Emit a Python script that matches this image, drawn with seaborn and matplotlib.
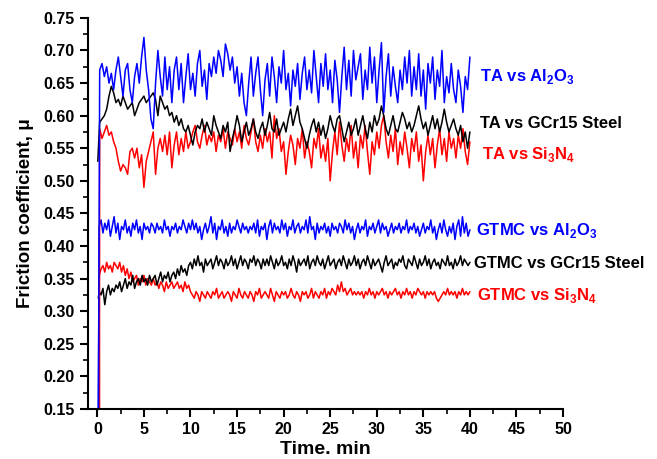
import numpy as np
import pandas as pd
import matplotlib
matplotlib.use("Agg")
import matplotlib.pyplot as plt
from matplotlib.ticker import MultipleLocator, FormatStrFormatter
import seaborn as sns

# ---------------- data ----------------
ta_step = 0.25   # sampling of TA curves, min
gt_step = 0.2    # sampling of GTMC curves, min

ta_al2o3 = [
    0.67, 0.68, 0.66, 0.675, 0.65, 0.665, 0.64, 0.67,
    0.69, 0.66, 0.63, 0.67, 0.68, 0.64, 0.62, 0.66,
    0.68, 0.65, 0.69, 0.72, 0.67, 0.64, 0.595, 0.58,
    0.65, 0.70, 0.66, 0.63, 0.69, 0.64, 0.675, 0.62,
    0.67, 0.69, 0.64, 0.68, 0.62, 0.66, 0.695, 0.64,
    0.665, 0.63, 0.68, 0.70, 0.645, 0.67, 0.625, 0.68,
    0.66, 0.69, 0.665, 0.70, 0.685, 0.66, 0.71, 0.695,
    0.67, 0.69, 0.65, 0.675, 0.63, 0.665, 0.62, 0.60,
    0.65, 0.69, 0.63, 0.665, 0.69, 0.64, 0.60, 0.655,
    0.68, 0.63, 0.69, 0.66, 0.62, 0.675, 0.65, 0.70,
    0.64, 0.665, 0.615, 0.67, 0.645, 0.68, 0.625, 0.665,
    0.69, 0.64, 0.67, 0.635, 0.70, 0.66, 0.62, 0.68,
    0.645, 0.695, 0.64, 0.67, 0.62, 0.685, 0.655, 0.605,
    0.66, 0.705, 0.64, 0.685, 0.63, 0.70, 0.655, 0.675,
    0.695, 0.625, 0.67, 0.64, 0.705, 0.65, 0.69, 0.62,
    0.67, 0.712, 0.605, 0.66, 0.695, 0.63, 0.675, 0.645,
    0.62, 0.67, 0.64, 0.69, 0.65, 0.70, 0.63, 0.675,
    0.64, 0.695, 0.63, 0.67, 0.61, 0.68, 0.65, 0.69,
    0.625, 0.67, 0.645, 0.70, 0.62, 0.66, 0.635, 0.68,
    0.64, 0.62, 0.67, 0.645, 0.605, 0.66, 0.64, 0.69,
]
ta_gcr15 = [
    0.59, 0.595, 0.60, 0.61, 0.63, 0.645, 0.635, 0.62,
    0.625, 0.615, 0.63, 0.62, 0.61, 0.615, 0.62, 0.60,
    0.61, 0.62, 0.625, 0.63, 0.62, 0.625, 0.63, 0.635,
    0.625, 0.60, 0.63, 0.62, 0.61, 0.615, 0.60, 0.605,
    0.59, 0.60, 0.585, 0.595, 0.58, 0.575, 0.585, 0.57,
    0.555, 0.575, 0.585, 0.58, 0.595, 0.575, 0.59, 0.58,
    0.57, 0.60, 0.585, 0.575, 0.565, 0.585, 0.575, 0.59,
    0.545, 0.565, 0.58, 0.60, 0.585, 0.56, 0.575, 0.59,
    0.57, 0.58, 0.595, 0.575, 0.565, 0.58, 0.59, 0.57,
    0.585, 0.605, 0.58, 0.575, 0.595, 0.57, 0.58, 0.59,
    0.575, 0.595, 0.61, 0.585, 0.60, 0.615, 0.59, 0.58,
    0.565, 0.55, 0.57, 0.585, 0.595, 0.575, 0.59, 0.57,
    0.585, 0.565, 0.58, 0.60, 0.585, 0.575, 0.595, 0.60,
    0.58, 0.56, 0.575, 0.59, 0.57, 0.58, 0.595, 0.57,
    0.585, 0.60, 0.58, 0.565, 0.59, 0.575, 0.60, 0.585,
    0.595, 0.615, 0.60, 0.58, 0.57, 0.585, 0.60, 0.58,
    0.575, 0.59, 0.605, 0.595, 0.58, 0.59, 0.575, 0.585,
    0.60, 0.615, 0.595, 0.58, 0.59, 0.57, 0.585, 0.60,
    0.58, 0.595, 0.575, 0.59, 0.61, 0.59, 0.575, 0.585,
    0.595, 0.58, 0.57, 0.585, 0.56, 0.575, 0.55, 0.575,
]
ta_si3n4 = [
    0.58, 0.565, 0.575, 0.585, 0.57, 0.575, 0.56, 0.55,
    0.53, 0.515, 0.525, 0.52, 0.51, 0.545, 0.55, 0.535,
    0.55, 0.52, 0.54, 0.49, 0.53, 0.545, 0.56, 0.575,
    0.51, 0.55, 0.565, 0.545, 0.57, 0.54, 0.575, 0.52,
    0.555, 0.575, 0.54, 0.565, 0.545, 0.575, 0.55, 0.56,
    0.575, 0.585, 0.56, 0.55, 0.57, 0.585, 0.555, 0.57,
    0.56, 0.575, 0.545, 0.57, 0.56, 0.58, 0.55, 0.575,
    0.565, 0.555, 0.58, 0.56, 0.575, 0.55, 0.585, 0.565,
    0.555, 0.575, 0.595, 0.56, 0.545, 0.57, 0.55, 0.58,
    0.56, 0.575, 0.535, 0.60, 0.565, 0.58, 0.545, 0.56,
    0.51, 0.545, 0.57, 0.555, 0.525, 0.565, 0.55, 0.58,
    0.535, 0.56, 0.545, 0.52, 0.565, 0.55, 0.58, 0.535,
    0.555, 0.53, 0.565, 0.50, 0.545, 0.575, 0.54, 0.59,
    0.555, 0.53, 0.565, 0.545, 0.585, 0.535, 0.56, 0.52,
    0.57, 0.55, 0.585, 0.545, 0.51, 0.56, 0.54, 0.575,
    0.55, 0.585, 0.60, 0.56, 0.535, 0.57, 0.545, 0.58,
    0.525, 0.56, 0.54, 0.575, 0.55, 0.52, 0.565, 0.545,
    0.575, 0.53, 0.555, 0.50, 0.545, 0.57, 0.54, 0.565,
    0.52, 0.555, 0.58, 0.54, 0.565, 0.53, 0.575, 0.55,
    0.565, 0.535, 0.57, 0.55, 0.58, 0.545, 0.525, 0.56,
]
gtmc_al2o3 = [
    0.43, 0.44, 0.42, 0.435, 0.425, 0.44, 0.415, 0.43, 0.445, 0.42,
    0.435, 0.41, 0.43, 0.425, 0.44, 0.42, 0.43, 0.415, 0.435, 0.425,
    0.44, 0.42, 0.43, 0.41, 0.435, 0.425, 0.43, 0.42, 0.435, 0.43,
    0.42, 0.435, 0.425, 0.43, 0.42, 0.44, 0.425, 0.43, 0.415, 0.43,
    0.425, 0.435, 0.42, 0.43, 0.425, 0.44, 0.43, 0.42, 0.435, 0.425,
    0.44, 0.425, 0.435, 0.42, 0.43, 0.41, 0.425, 0.435, 0.42, 0.43,
    0.445, 0.42, 0.435, 0.41, 0.43, 0.425, 0.44, 0.42, 0.43, 0.415,
    0.435, 0.42, 0.43, 0.425, 0.44, 0.43, 0.42, 0.435, 0.425, 0.43,
    0.42, 0.43, 0.425, 0.435, 0.42, 0.44, 0.415, 0.43, 0.425, 0.435,
    0.41, 0.43, 0.44, 0.42, 0.435, 0.425, 0.43, 0.42, 0.44, 0.425,
    0.435, 0.415, 0.43, 0.425, 0.44, 0.42, 0.43, 0.435, 0.42, 0.43,
    0.425, 0.44, 0.42, 0.445, 0.425, 0.43, 0.41, 0.435, 0.42, 0.43,
    0.425, 0.435, 0.42, 0.43, 0.415, 0.435, 0.425, 0.43, 0.42, 0.435,
    0.43, 0.42, 0.44, 0.425, 0.435, 0.42, 0.43, 0.41, 0.425, 0.435,
    0.42, 0.43, 0.425, 0.44, 0.415, 0.43, 0.425, 0.435, 0.42, 0.43,
    0.44, 0.42, 0.435, 0.425, 0.43, 0.415, 0.425, 0.435, 0.42, 0.43,
    0.425, 0.435, 0.42, 0.43, 0.425, 0.44, 0.42, 0.43, 0.425, 0.435,
    0.42, 0.43, 0.415, 0.425, 0.435, 0.42, 0.43, 0.425, 0.44, 0.42,
    0.43, 0.41, 0.425, 0.435, 0.42, 0.44, 0.425, 0.415, 0.43, 0.42,
    0.435, 0.41, 0.43, 0.44, 0.415, 0.445, 0.42, 0.435, 0.415, 0.425,
]
gtmc_gcr15 = [
    0.33, 0.325, 0.335, 0.31, 0.33, 0.34, 0.325, 0.335, 0.33, 0.34,
    0.335, 0.345, 0.33, 0.34, 0.35, 0.335, 0.345, 0.34, 0.355, 0.335,
    0.345, 0.35, 0.34, 0.355, 0.345, 0.35, 0.34, 0.355, 0.345, 0.35,
    0.355, 0.34, 0.35, 0.36, 0.345, 0.355, 0.35, 0.36, 0.345, 0.355,
    0.36, 0.35, 0.365, 0.355, 0.37, 0.36, 0.365, 0.355, 0.37, 0.375,
    0.365, 0.38, 0.37, 0.385, 0.37, 0.375, 0.36, 0.38, 0.37, 0.375,
    0.38, 0.365, 0.375, 0.385, 0.37, 0.38, 0.375, 0.365, 0.38, 0.37,
    0.375, 0.385, 0.37, 0.38, 0.365, 0.375, 0.385, 0.37, 0.38, 0.375,
    0.365, 0.38, 0.375, 0.385, 0.37, 0.38, 0.375, 0.365, 0.38, 0.37,
    0.38, 0.37, 0.385, 0.375, 0.365, 0.38, 0.37, 0.375, 0.385, 0.37,
    0.375, 0.365, 0.38, 0.37, 0.385, 0.375, 0.36, 0.38, 0.37, 0.375,
    0.38, 0.37, 0.385, 0.365, 0.375, 0.38, 0.37, 0.385, 0.375, 0.37,
    0.38, 0.365, 0.375, 0.385, 0.37, 0.375, 0.38, 0.365, 0.375, 0.38,
    0.37, 0.385, 0.375, 0.365, 0.38, 0.37, 0.375, 0.385, 0.37, 0.38,
    0.365, 0.375, 0.38, 0.37, 0.385, 0.375, 0.365, 0.38, 0.37, 0.375,
    0.38, 0.37, 0.36, 0.375, 0.385, 0.37, 0.375, 0.38, 0.365, 0.375,
    0.37, 0.38, 0.375, 0.385, 0.37, 0.365, 0.38, 0.375, 0.37, 0.385,
    0.375, 0.365, 0.38, 0.37, 0.375, 0.385, 0.37, 0.38, 0.365, 0.375,
    0.38, 0.37, 0.375, 0.365, 0.38, 0.375, 0.37, 0.385, 0.37, 0.375,
    0.365, 0.38, 0.37, 0.375, 0.385, 0.37, 0.38, 0.375, 0.37, 0.375,
]
gtmc_si3n4 = [
    0.355, 0.365, 0.37, 0.36, 0.375, 0.365, 0.37, 0.36, 0.375, 0.37,
    0.365, 0.375, 0.36, 0.37, 0.355, 0.365, 0.35, 0.36, 0.345, 0.35,
    0.355, 0.34, 0.35, 0.345, 0.355, 0.34, 0.35, 0.345, 0.34, 0.35,
    0.34, 0.345, 0.335, 0.345, 0.34, 0.33, 0.345, 0.335, 0.34, 0.345,
    0.335, 0.34, 0.345, 0.335, 0.34, 0.33, 0.345, 0.335, 0.34, 0.33,
    0.325, 0.32, 0.33, 0.325, 0.315, 0.33, 0.325, 0.32, 0.33, 0.325,
    0.32, 0.33, 0.325, 0.335, 0.32, 0.325, 0.33, 0.32, 0.325, 0.33,
    0.325, 0.315, 0.33, 0.325, 0.32, 0.335, 0.325, 0.32, 0.33, 0.325,
    0.32, 0.33, 0.325, 0.315, 0.33, 0.325, 0.335, 0.32, 0.325, 0.33,
    0.325, 0.32, 0.335, 0.325, 0.315, 0.33, 0.325, 0.32, 0.33, 0.325,
    0.33, 0.32, 0.325, 0.335, 0.325, 0.32, 0.33, 0.325, 0.315, 0.33,
    0.325, 0.33, 0.32, 0.325, 0.335, 0.32, 0.33, 0.325, 0.32, 0.33,
    0.325, 0.335, 0.32, 0.33, 0.325, 0.335, 0.33, 0.325, 0.34, 0.33,
    0.345, 0.33, 0.335, 0.325, 0.33, 0.335, 0.325, 0.33, 0.325, 0.33,
    0.325, 0.33, 0.32, 0.33, 0.325, 0.335, 0.325, 0.33, 0.32, 0.33,
    0.325, 0.33, 0.335, 0.325, 0.33, 0.32, 0.33, 0.325, 0.33, 0.335,
    0.325, 0.33, 0.32, 0.33, 0.325, 0.335, 0.325, 0.33, 0.32, 0.33,
    0.325, 0.335, 0.33, 0.325, 0.33, 0.32, 0.33, 0.325, 0.33, 0.325,
    0.33, 0.32, 0.315, 0.32, 0.325, 0.33, 0.325, 0.335, 0.325, 0.33,
    0.325, 0.33, 0.32, 0.33, 0.325, 0.335, 0.325, 0.33, 0.325, 0.33,
]

# initial run-in point of each curve (time, value)
start_t = {"ta_al": 0.12, "ta_gcr": 0.05, "ta_si": 0.22,
           "gt_al": 0.1, "gt_gcr": 0.1, "gt_si": 0.22}
start_v = {"ta_al": 0.15, "ta_gcr": 0.53, "ta_si": 0.15,
           "gt_al": 0.15, "gt_gcr": 0.32, "gt_si": 0.15}

labels = {
    "ta_al": r"TA vs Al$_\mathbf{2}$O$_\mathbf{3}$",
    "ta_gcr": "TA vs GCr15 Steel",
    "ta_si": r"TA vs Si$_\mathbf{3}$N$_\mathbf{4}$",
    "gt_al": r"GTMC vs Al$_\mathbf{2}$O$_\mathbf{3}$",
    "gt_gcr": "GTMC vs GCr15 Steel",
    "gt_si": r"GTMC vs Si$_\mathbf{3}$N$_\mathbf{4}$",
}
colors = {"ta_al": "#0000FF", "ta_gcr": "#000000", "ta_si": "#FF0000",
          "gt_al": "#0000FF", "gt_gcr": "#000000", "gt_si": "#FF0000"}
label_pos = {  # (time, value) where the annotation sits
    "ta_al": (41.1, 0.660), "ta_gcr": (41.1, 0.588), "ta_si": (41.3, 0.541),
    "gt_al": (40.7, 0.424), "gt_gcr": (40.4, 0.373), "gt_si": (40.8, 0.324),
}

series = {"ta_al": (ta_al2o3, ta_step), "ta_gcr": (ta_gcr15, ta_step),
          "ta_si": (ta_si3n4, ta_step), "gt_al": (gtmc_al2o3, gt_step),
          "gt_gcr": (gtmc_gcr15, gt_step), "gt_si": (gtmc_si3n4, gt_step)}

# ---------------- plotting ----------------
sns.set_style("ticks")
plt.rcParams["font.family"] = ["Liberation Sans", "DejaVu Sans"]
plt.rcParams["font.weight"] = "bold"
plt.rcParams["text.color"] = "black"
plt.rcParams["axes.labelcolor"] = "black"
plt.rcParams["mathtext.fontset"] = "custom"
plt.rcParams["mathtext.rm"] = "Liberation Sans:bold"
plt.rcParams["mathtext.bf"] = "Liberation Sans:bold"

fig = plt.figure(figsize=(6.57, 4.59), dpi=100)
ax = fig.add_axes([0.134, 0.109, 0.723, 0.852])

order = ["gt_si", "gt_gcr", "gt_al", "ta_si", "ta_gcr", "ta_al"]
for key in order:
    vals, step = series[key]
    t = np.round(np.arange(1, len(vals) + 1) * step, 4)
    df = pd.DataFrame({"t": np.concatenate([[start_t[key]], t]),
                       "mu": np.concatenate([[start_v[key]], vals])})
    sns.lineplot(data=df, x="t", y="mu", ax=ax, color=colors[key],
                 linewidth=1.1, sort=False, estimator=None)

for key in order:
    x, y = label_pos[key]
    ax.text(x, y, labels[key], color=colors[key], fontsize=12,
            fontweight="bold", va="center", ha="left")

ax.set_xlim(-1, 50)
ax.set_ylim(0.15, 0.75)
ax.xaxis.set_major_locator(MultipleLocator(5))
ax.xaxis.set_minor_locator(MultipleLocator(2.5))
ax.yaxis.set_major_locator(MultipleLocator(0.05))
ax.yaxis.set_minor_locator(MultipleLocator(0.025))
ax.yaxis.set_major_formatter(FormatStrFormatter("%.2f"))

sns.despine(ax=ax)
for s in ("left", "bottom"):
    ax.spines[s].set_linewidth(1.5)
    ax.spines[s].set_color("black")
ax.tick_params(which="major", direction="out", length=6, width=1.5,
               labelsize=11.5, colors="black")
ax.tick_params(which="minor", direction="out", length=3.5, width=1.2,
               colors="black")
for lab in ax.get_xticklabels() + ax.get_yticklabels():
    lab.set_fontweight("bold")

ax.set_xlabel("Time. min", fontsize=14, fontweight="bold", labelpad=3,
              color="black")
ax.set_ylabel("Friction coefficient, μ", fontsize=13.5, fontweight="bold",
              labelpad=7, color="black")

fig.savefig("out.png", dpi=100)
